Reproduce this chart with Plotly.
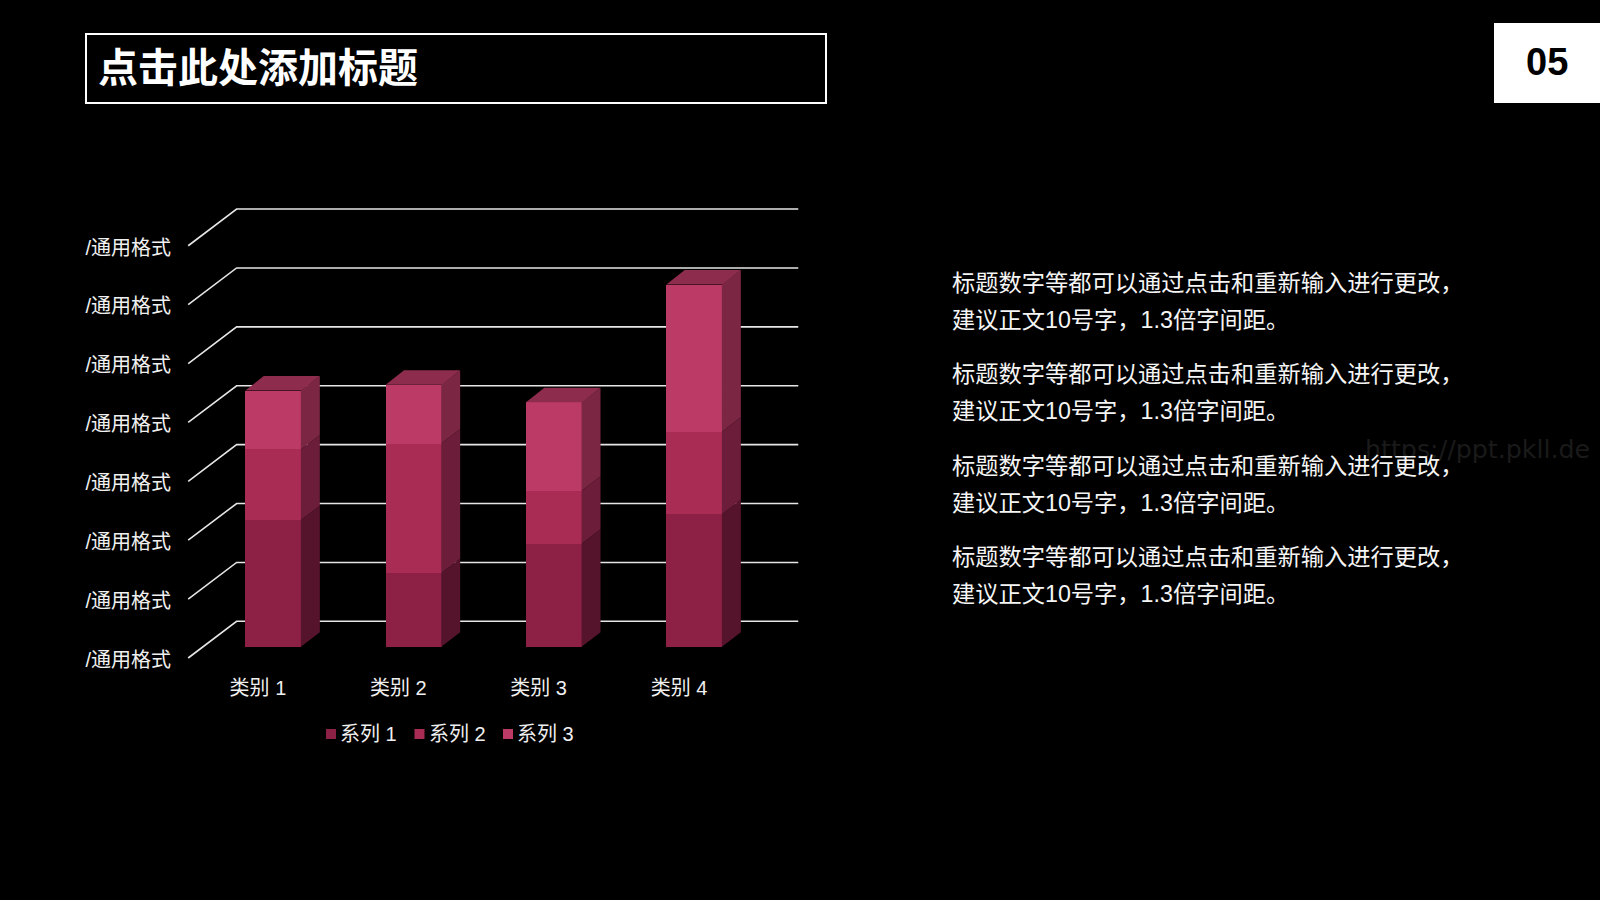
import plotly.graph_objects as go

# ---------- data ----------
categories = ["类别 1", "类别 2", "类别 3", "类别 4"]
series_names = ["系列 1", "系列 2", "系列 3"]
series_1 = [4.3, 2.5, 3.5, 4.5]
series_2 = [2.4, 4.4, 1.8, 2.8]
series_3 = [2.0, 2.0, 3.0, 5.0]
axis_values = [0, 2, 4, 6, 8, 10, 12, 14]
axis_label = "/通用格式"
title_text = "点击此处添加标题"
page_number = "05"
body_line_1 = "标题数字等都可以通过点击和重新输入进行更改，"
body_line_2 = "建议正文10号字，1.3倍字间距。"
watermark = "https://ppt.pkll.de"

# ---------- styles ----------
W, H = 1600, 900
FONT = "Liberation Sans, Noto Sans CJK SC, sans-serif"
front_colors = ["#8C2145", "#A92C55", "#BB3A66"]
side_colors = ["#56142C", "#6B1D39", "#7B2643"]
top_color = "#8E2C4D"

# plot box in pixels
L, R, T, B = 183, 805, 200, 672
# 3-D look (in axis units)
bar_width = 0.400
depth_x = 0.131
depth_y = 0.49
wall_dx = 0.345
wall_back = 0.862
wall_front = -0.384
x_min, x_max = -0.644, 3.788
y_min, y_max = -0.859, 15.17
grid_left = -0.607
grid_right = 3.74
seam = 0.004


def px(x):
    return (x - L) / (R - L)


def py(y):
    return (B - y) / (B - T)


fig = go.Figure()

all_series = [series_1, series_2, series_3]

# front faces: real stacked bars
for name, vals, col in zip(series_names, all_series, front_colors):
    fig.add_trace(go.Bar(x=list(range(len(categories))), y=vals, name=name,
                         width=bar_width, marker=dict(color=col, line=dict(width=0)),
                         showlegend=False, hoverinfo="skip"))

# side faces
bottoms = [0.0] * len(categories)
for vals, col in zip(all_series, side_colors):
    xs, ys = [], []
    for i, v in enumerate(vals):
        r = i + bar_width / 2
        b = bottoms[i]
        xs += [r - seam, r + depth_x, r + depth_x, r - seam, r - seam, None]
        ys += [b, b + depth_y, b + v + depth_y, b + v, b, None]
        bottoms[i] = b + v
    fig.add_trace(go.Scatter(x=xs, y=ys, mode="lines", line=dict(width=0), fill="toself",
                             fillcolor=col, showlegend=False, hoverinfo="skip"))

# top faces
xs, ys = [], []
for i, t in enumerate(bottoms):
    l = i - bar_width / 2
    r = i + bar_width / 2
    xs += [l, r, r + depth_x, l + depth_x, l, None]
    ys += [t, t, t + depth_y, t + depth_y, t, None]
fig.add_trace(go.Scatter(x=xs, y=ys, mode="lines", line=dict(width=0), fill="toself",
                         fillcolor=top_color, showlegend=False, hoverinfo="skip"))

shapes = []
# gridlines, behind the bars
for v in axis_values:
    path = (f"M {grid_left},{v + wall_front} "
            f"L {grid_left + wall_dx},{v + wall_back} "
            f"L {grid_right},{v + wall_back}")
    shapes.append(dict(type="path", path=path, xref="x", yref="y", layer="below",
                       line=dict(color="#E6E6E6", width=1.6)))

# title frame and page-number box
shapes.append(dict(type="rect", xref="paper", yref="paper", x0=px(86), x1=px(826),
                   y0=py(103), y1=py(34), line=dict(color="white", width=2),
                   fillcolor="rgba(0,0,0,0)"))
shapes.append(dict(type="rect", xref="paper", yref="paper", x0=px(1494), x1=px(1600),
                   y0=py(103), y1=py(23), line=dict(width=0), fillcolor="white"))

annotations = [
    dict(text=title_text, x=px(97), y=py(68), xanchor="left", yanchor="middle",
         font=dict(family=FONT, size=40, color="white", weight="bold")),
    dict(text=page_number, x=px(1547), y=py(62), xanchor="center", yanchor="middle",
         font=dict(family=FONT, size=38, color="black", weight="bold")),
    dict(text=watermark, x=px(1364), y=py(449), xanchor="left", yanchor="middle",
         font=dict(family="DejaVu Sans", size=25.3, color="#1A1A1A")),
]
for y1, y2 in [(283, 320), (374, 411), (466, 503), (557, 594)]:
    for txt, y in [(body_line_1, y1), (body_line_2, y2)]:
        annotations.append(dict(text=txt, x=px(950.5), y=py(y), xanchor="left", yanchor="middle",
                                font=dict(family=FONT, size=23.26, color="#F5F5F5")))

# legend row
for name, col, swatch_px in zip(series_names, front_colors, (331, 419.5, 508)):
    shapes.append(dict(type="rect", xref="paper", yref="paper",
                       x0=px(swatch_px - 5), x1=px(swatch_px + 5),
                       y0=py(739), y1=py(729), line=dict(width=0), fillcolor=col))
    annotations.append(dict(text=name, x=px(swatch_px + 8), y=py(734),
                            xanchor="left", yanchor="middle",
                            font=dict(family=FONT, size=20, color="#F0F0F0")))

for a in annotations:
    a.update(xref="paper", yref="paper", showarrow=False, borderpad=0)

fig.update_layout(
    width=W, height=H, autosize=False,
    paper_bgcolor="black", plot_bgcolor="black",
    margin=dict(l=L, r=W - R, t=T, b=H - B, pad=0),
    barmode="stack", shapes=shapes, annotations=annotations,
    font=dict(family=FONT, color="#F0F0F0", size=20),
    showlegend=False,
    xaxis=dict(range=[x_min, x_max], tickmode="array",
               tickvals=[i - 0.11 for i in range(len(categories))], ticktext=categories,
               showgrid=False, zeroline=False, showline=False, ticks="", fixedrange=True,
               ticklabelstandoff=2,
               tickfont=dict(family=FONT, size=20, color="#F0F0F0")),
    yaxis=dict(range=[y_min, y_max], tickmode="array",
               tickvals=[v + wall_front - 0.06 for v in axis_values],
               ticktext=[axis_label] * len(axis_values),
               showgrid=False, zeroline=False, showline=False, ticks="", fixedrange=True,
               ticklabelstandoff=11,
               tickfont=dict(family=FONT, size=20, color="#F0F0F0")),
)

fig.write_html("out.html", config={"displayModeBar": False},
               post_script="document.body.style.margin='0';document.body.style.background='black';")
